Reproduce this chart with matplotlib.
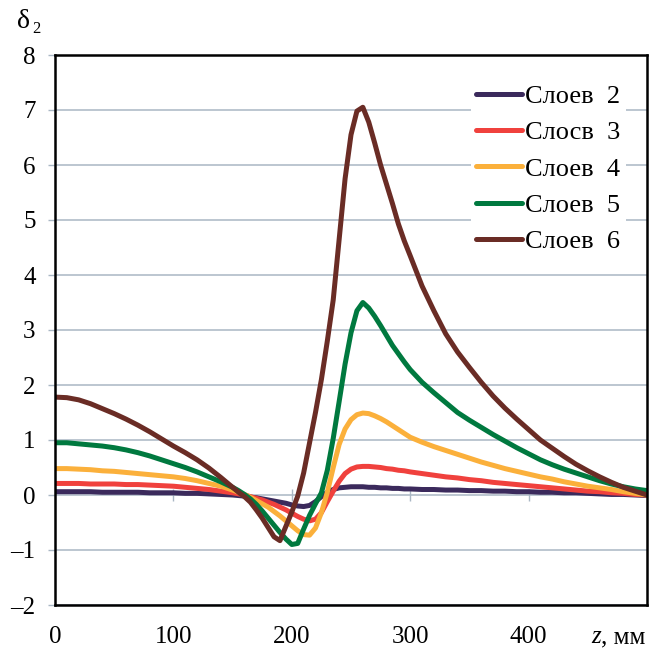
import matplotlib
matplotlib.use("Agg")
import matplotlib.pyplot as plt

plt.rcParams['font.family'] = ['Liberation Serif', 'DejaVu Serif']

z = [0, 10, 20, 30, 40, 50, 60, 70, 80, 90, 100, 110, 120, 130, 140, 150,
     155, 160, 165, 170, 175, 180, 185, 190, 195, 200, 205, 210, 215, 220, 225,
     230, 235, 240, 245, 250, 255, 260, 265, 270, 275, 280, 285, 290, 295, 300,
     310, 320, 330, 340, 350, 360, 370, 380, 390, 400, 410, 420, 430, 440, 450,
     460, 470, 480, 490, 500]

layers2 = [0.06, 0.06, 0.06, 0.06, 0.05, 0.05, 0.05, 0.05, 0.04, 0.04, 0.04, 0.03, 0.03, 0.02, 0.01, 0.00,
           -0.01, -0.02, -0.04, -0.05, -0.07, -0.09, -0.11, -0.13, -0.15, -0.18, -0.20, -0.21, -0.19, -0.12, -0.03,
           0.05, 0.10, 0.13, 0.14, 0.15, 0.15, 0.15, 0.14, 0.14, 0.13, 0.13, 0.12, 0.12, 0.11, 0.11,
           0.10, 0.10, 0.09, 0.09, 0.08, 0.08, 0.07, 0.07, 0.06, 0.06, 0.05, 0.05, 0.04, 0.04, 0.03,
           0.02, 0.01, 0.01, 0.00, -0.01]
layers3 = [0.21, 0.21, 0.21, 0.20, 0.20, 0.20, 0.19, 0.19, 0.18, 0.17, 0.16, 0.14, 0.12, 0.10, 0.07, 0.04,
           0.02, 0.00, -0.03, -0.06, -0.09, -0.13, -0.17, -0.22, -0.27, -0.33, -0.39, -0.44, -0.47, -0.44, -0.32,
           -0.12, 0.07, 0.25, 0.39, 0.47, 0.51, 0.52, 0.52, 0.51, 0.50, 0.48, 0.47, 0.45, 0.44, 0.42,
           0.39, 0.36, 0.33, 0.31, 0.28, 0.26, 0.23, 0.21, 0.19, 0.17, 0.15, 0.13, 0.11, 0.09, 0.07,
           0.06, 0.04, 0.03, 0.01, 0.00]
layers4 = [0.48, 0.48, 0.47, 0.46, 0.44, 0.43, 0.41, 0.39, 0.37, 0.35, 0.33, 0.30, 0.26, 0.21, 0.16, 0.09,
           0.05, 0.01, -0.04, -0.10, -0.16, -0.22, -0.30, -0.38, -0.47, -0.56, -0.65, -0.72, -0.73, -0.60, -0.32,
           0.05, 0.50, 0.92, 1.20, 1.37, 1.46, 1.49, 1.48, 1.44, 1.39, 1.33, 1.26, 1.19, 1.12, 1.05,
           0.96, 0.88, 0.81, 0.74, 0.67, 0.60, 0.54, 0.48, 0.43, 0.38, 0.33, 0.29, 0.24, 0.20, 0.16,
           0.13, 0.10, 0.06, 0.03, 0.00]
layers5 = [0.95, 0.95, 0.93, 0.91, 0.89, 0.86, 0.82, 0.77, 0.71, 0.64, 0.57, 0.50, 0.42, 0.33, 0.24, 0.14,
           0.08, 0.01, -0.07, -0.17, -0.29, -0.42, -0.55, -0.68, -0.80, -0.90, -0.88, -0.62, -0.37, -0.16, 0.04,
           0.45, 1.03, 1.70, 2.38, 2.95, 3.35, 3.50, 3.40, 3.25, 3.08, 2.90, 2.72, 2.57, 2.42, 2.28,
           2.05, 1.86, 1.68, 1.50, 1.36, 1.23, 1.10, 0.98, 0.86, 0.75, 0.64, 0.55, 0.47, 0.40, 0.33,
           0.26, 0.20, 0.15, 0.11, 0.08]
layers6 = [1.78, 1.77, 1.73, 1.66, 1.57, 1.48, 1.38, 1.27, 1.15, 1.02, 0.89, 0.77, 0.64, 0.49, 0.32, 0.14,
           0.05, -0.03, -0.13, -0.27, -0.42, -0.59, -0.76, -0.83, -0.57, -0.31, -0.02, 0.40, 0.95, 1.50, 2.10,
           2.80, 3.55, 4.65, 5.75, 6.55, 6.98, 7.05, 6.78, 6.40, 6.00, 5.65, 5.30, 4.93, 4.62, 4.35,
           3.80, 3.35, 2.93, 2.60, 2.32, 2.05, 1.80, 1.58, 1.38, 1.19, 1.00, 0.85, 0.70, 0.56, 0.44,
           0.33, 0.23, 0.14, 0.07, 0.00]

series = [layers2, layers3, layers4, layers5, layers6]
labels = ["Слоев  2", "Слосв  3", "Слоев  4", "Слоев  5", "Слоев  6"]
colors = ["#3b2a5c", "#f0413d", "#fbb03b", "#00793f", "#6a2c25"]

xticks = [0, 100, 200, 300, 400]
yticks = [-2, -1, 0, 1, 2, 3, 4, 5, 6, 7, 8]

W, H = 661, 651
fig = plt.figure(figsize=(W / 100, H / 100), dpi=100)
ax = fig.add_axes([55 / W, 1 - 605 / H, (647 - 55) / W, (605 - 55) / H])

gridc = "#a9b7c4"
for yv in yticks:
    ax.axhline(yv, color=gridc, lw=1.1, zorder=1)

for ys, lab, c in zip(series, labels, colors):
    ax.plot(z, ys, color=c, lw=3.6, label=lab, zorder=3,
            solid_capstyle='round', solid_joinstyle='round')

ax.set_xlim(0, 500)
ax.set_ylim(-2, 8)
ax.set_yticks(yticks)
ax.set_yticklabels([("\u2013" + str(-v)) if v < 0 else str(v) for v in yticks])
ax.set_xticks(xticks)
ax.set_xticklabels([str(v) for v in xticks])
ax.tick_params(axis='y', length=5, width=1, color=gridc, labelsize=18, pad=9)
ax.tick_params(axis='x', length=0, labelsize=18, pad=15)
for s in ax.spines.values():
    s.set_linewidth(1.8)
    s.set_color("black")
    s.set_zorder(5)

sec = ax.secondary_xaxis(0.2)
sec.set_xticks(xticks[1:])
sec.set_xticklabels([])
sec.spines['bottom'].set_visible(False)
sec.tick_params(axis='x', direction='inout', length=8, width=1, color=gridc)

leg = ax.legend(loc='upper left', bbox_to_anchor=((471 - 55) / (647 - 55), 1 - (79 - 55) / (605 - 55)),
                fontsize=19, handlelength=1.75, handletextpad=0.1, labelspacing=0.49,
                frameon=True, fancybox=False, borderpad=0.2, borderaxespad=0)
leg.get_frame().set_facecolor('white')
leg.get_frame().set_edgecolor('none')
leg.get_frame().set_alpha(1)
for ln in leg.get_lines():
    ln.set_linewidth(3.6)

fig.text(24 / W, 1 - 22 / H, "δ", fontsize=20, ha='center', va='center')
fig.text(36 / W, 1 - 29 / H, "2", fontsize=12, ha='center', va='center')
fig.text(601 / W, 1 - 637 / H, "z", fontsize=18, style='italic', ha='right', va='center')
fig.text(601 / W, 1 - 637 / H, ", мм", fontsize=18, ha='left', va='center')

fig.savefig("out.png", dpi=100)
